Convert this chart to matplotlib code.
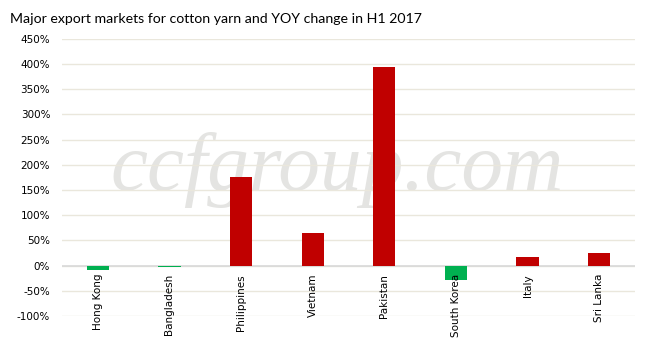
import matplotlib.pyplot as plt
from matplotlib import font_manager
from matplotlib.ticker import FuncFormatter

markets = ["Hong Kong", "Bangladesh", "Philippines", "Vietnam", "Pakistan",
           "South Korea", "Italy", "Sri Lanka"]
yoy_change = [-8, -2, 176, 65, 394, -28, 18, 26]

RED = "#C00000"
GREEN = "#00B050"

installed = {f.name for f in font_manager.fontManager.ttflist}
if "Liberation Sans Narrow" in installed:
    title_font, title_size = "Liberation Sans Narrow", 11.5
else:
    title_font, title_size = "Lato", 10.2

fig = plt.figure(figsize=(6.49, 3.5), dpi=100)
ax = fig.add_axes([0.0955, 0.097, 0.883, 0.792])

colors = [RED if v >= 0 else GREEN for v in yoy_change]
x = list(range(len(markets)))
ax.bar(x, yoy_change, width=0.31, color=colors, zorder=3)

ax.set_xlim(-0.5, len(markets) - 0.5)
ax.set_ylim(-100, 450)
ax.set_yticks(range(-100, 451, 50))
ax.yaxis.set_major_formatter(FuncFormatter(lambda v, p: "%d%%" % v))
ax.set_axisbelow(False)
ax.grid(axis="y", color="#EAE7DC", linewidth=1, zorder=2)
ax.axhline(0, color="#D9D9D9", linewidth=1.2, zorder=2.6)
for s in ax.spines.values():
    s.set_visible(False)
ax.tick_params(axis="y", length=0, labelsize=7.5, pad=8.5)
ax.tick_params(axis="x", length=0, labelsize=7.5, pad=0)

ax.set_xticks(x)
ax.set_xticklabels([])
for i, name in enumerate(markets):
    ax.annotate(name, xy=(i, 0), xycoords=("data", "data"), xytext=(0, -6),
                textcoords="offset points", rotation=90, ha="center", va="top",
                fontsize=7.5)

# watermark
ax.text(0.52, 0.457, "ccfgroup.com", transform=fig.transFigure, fontsize=60,
        family="Liberation Serif", style="italic", color="#E4E4E2",
        ha="center", va="baseline", zorder=1)

fig.text(0.015, 0.945, "Major export markets for cotton yarn and YOY change in H1 2017",
         fontsize=title_size, family=title_font, va="center", ha="left")

fig.savefig("out.png", dpi=100)
